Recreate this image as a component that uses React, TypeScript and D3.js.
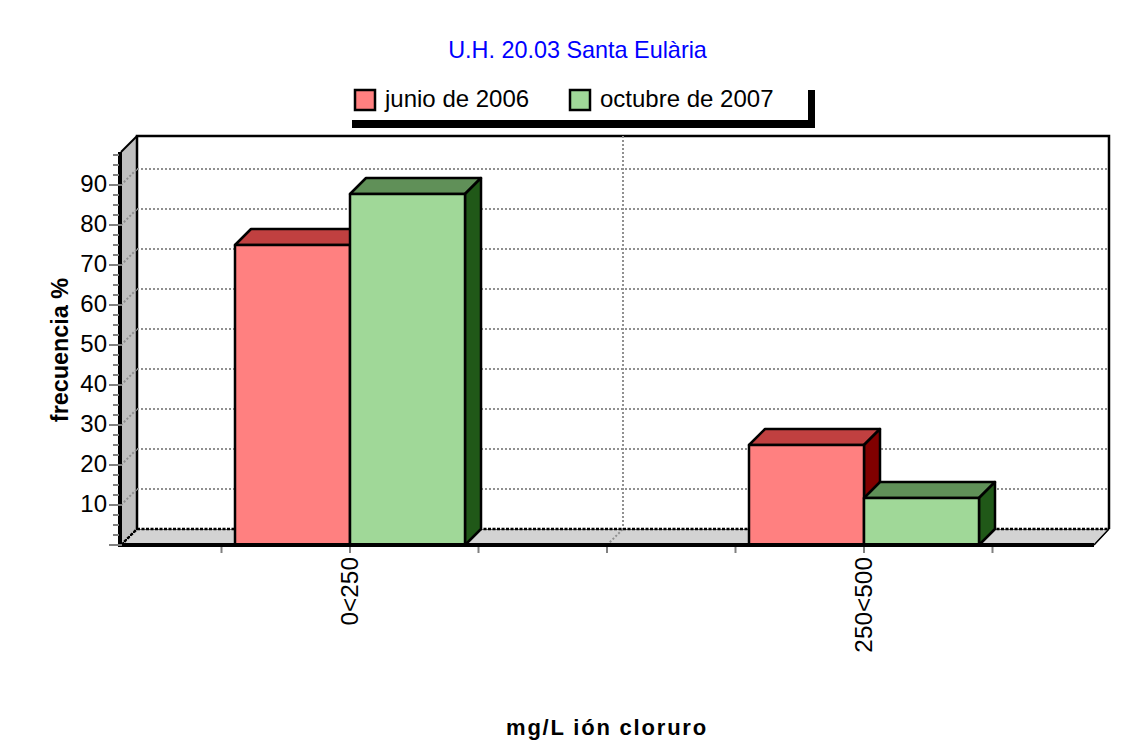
import React from "react";
import * as d3 from "d3";

const title = "U.H. 20.03 Santa Eulària";
const yTitle = "frecuencia %";
const xTitle = "mg/L ión cloruro";
const categories = ["0<250", "250<500"];
const seriesNames = ["junio de 2006", "octubre de 2007"];
const junio = [75, 25];
const octubre = [87.75, 11.75];
const yTicks = [10, 20, 30, 40, 50, 60, 70, 80, 90];
const yMinor = [2.5, 5, 7.5, 12.5, 15, 17.5, 22.5, 25, 27.5, 32.5, 35, 37.5, 42.5, 45, 47.5, 52.5, 55, 57.5, 62.5, 65, 67.5, 72.5, 75, 77.5, 82.5, 85, 87.5, 92.5, 95, 97.5];
const xTickPos = [-0.25, 0, 0.25, 0.5, 0.75, 1, 1.25];

const fills = [
  { front: "#ff8080", top: "#c04040", side: "#800000" },
  { front: "#a0d898", top: "#609058", side: "#205818" },
];
const font = "'Liberation Sans', Arial, sans-serif";
const FS = 23.4;
const D = 16;
const L = 121, R = 1094, Y0 = 545, YTOP = 152;

const y = d3.scaleLinear().domain([0, 98.25]).range([Y0, Y0 - 98.25 * 4]);
const x = d3.scaleLinear().domain([0, 1]).range([350, 864]);
const BAR = 115;

const pts = (p: number[][]) => p.map((a) => a.join(",")).join(" ");

function Bar({ left, val, c }: { left: number; val: number; c: typeof fills[number] }) {
  const t = y(val);
  const r = left + BAR;
  return (
    <g stroke="#000" strokeWidth={2.5} strokeLinejoin="round">
      <polygon points={pts([[left, t], [left + D, t - D], [r + D, t - D], [r, t]])} fill={c.top} />
      <polygon points={pts([[r, t], [r + D, t - D], [r + D, Y0 - D], [r, Y0]])} fill={c.side} />
      <rect x={left} y={t} width={BAR} height={Y0 - t} fill={c.front} />
    </g>
  );
}

export default function App() {
  return (
    <svg width={1131} height={740} style={{ position: "absolute", left: 0, top: 0, background: "#fff" }} fontFamily={font}>
      <text x={577.5} y={58} textAnchor="middle" fontSize={FS} fill="#0000ff">{title}</text>

      {/* legend */}
      <rect x={352} y={120} width={463} height={8} fill="#000" />
      <rect x={808} y={90} width={7} height={38} fill="#000" />
      {seriesNames.map((n, i) => {
        const lx = [355, 570][i];
        return (
          <g key={n}>
            <rect x={lx} y={90} width={20} height={20} fill={fills[i].front} stroke="#000" strokeWidth={2.5} />
            <text x={lx + 30} y={107} fontSize={24} fill="#000">{n}</text>
          </g>
        );
      })}

      {/* walls */}
      <polygon points={pts([[L, YTOP], [L + D, YTOP - D], [L + D, Y0 - D], [L, Y0]])} fill="#c0c0c0" stroke="#000" strokeWidth={1} />
      <polygon points={pts([[L, Y0], [L + D, Y0 - D], [R + 15, Y0 - D], [R, Y0]])} fill="#d3d3d3" stroke="#000" strokeWidth={1} />
      <rect x={L + D} y={YTOP - D} width={R + 15 - L - D} height={Y0 - YTOP} fill="#fff" />
      <path d={`M${L + D},${Y0 - D}V${YTOP - D}H${R + 15}V${Y0 - D}`} fill="none" stroke="#000" strokeWidth={2.5} />
      <line x1={R} x2={R + 15} y1={Y0} y2={Y0 - D} stroke="#000" strokeWidth={1.5} />
      <line x1={L} x2={L + D} y1={YTOP} y2={YTOP - D} stroke="#000" strokeWidth={2} />

      {/* grid */}
      <g stroke="#909090" strokeWidth={2} strokeDasharray="2 2" fill="none">
        {yTicks.map((v) => (
          <g key={v}>
            <line x1={L + D} x2={R + 15} y1={y(v) - D} y2={y(v) - D} />
            <line x1={L} x2={L + D} y1={y(v)} y2={y(v) - D} />
          </g>
        ))}
        <line x1={x(0.5) + D} x2={x(0.5) + D} y1={YTOP - D} y2={Y0 - D} />
        <line x1={x(0.5)} x2={x(0.5) + D} y1={Y0} y2={Y0 - D} />
      </g>
      <line x1={L + D} x2={R + 15} y1={Y0 - D} y2={Y0 - D} stroke="#000" strokeWidth={2.5} strokeDasharray="3 1.5" />
      <line x1={L} x2={L + D} y1={Y0} y2={Y0 - D} stroke="#000" strokeWidth={2.5} strokeDasharray="3 1.5" />

      {/* bars */}
      {categories.map((c, i) => (
        <g key={c}>
          <Bar left={x(i) - BAR} val={junio[i]} c={fills[0]} />
          <Bar left={x(i)} val={octubre[i]} c={fills[1]} />
        </g>
      ))}

      {/* front axes */}
      <rect x={L - 3} y={YTOP} width={4} height={Y0 - YTOP + 2} fill="#000" />
      <rect x={L - 3} y={Y0 - 2} width={R - L + 3} height={4} fill="#000" />

      {/* y ticks */}
      <g stroke="#808080" strokeWidth={2}>
        {yMinor.map((v) => <line key={v} x1={113} x2={119} y1={y(v)} y2={y(v)} />)}
        {yTicks.map((v) => <line key={v} x1={109} x2={122} y1={y(v)} y2={y(v)} />)}
        <line x1={109} x2={122} y1={Y0} y2={Y0} />
      </g>
      {yTicks.map((v) => (
        <text key={v} x={107} y={y(v) + 6.7} textAnchor="end" fontSize={24} fill="#000">{v}</text>
      ))}

      {/* x ticks */}
      <g stroke="#808080" strokeWidth={2}>
        {xTickPos.map((p) => <line key={p} x1={x(p)} x2={x(p)} y1={547} y2={553} />)}
      </g>
      {categories.map((c, i) => (
        <text key={c} transform={`translate(${x(i) + 8},557) rotate(-90)`} textAnchor="end" fontSize={24.4} fill="#000">{c}</text>
      ))}

      <text transform="translate(68,350) rotate(-90)" textAnchor="middle" fontSize={FS} fontWeight="bold" fill="#000">{yTitle}</text>
      <text x={607} y={735} textAnchor="middle" fontSize={22} fontWeight="bold" letterSpacing={1.8} fill="#000">{xTitle}</text>
    </svg>
  );
}
